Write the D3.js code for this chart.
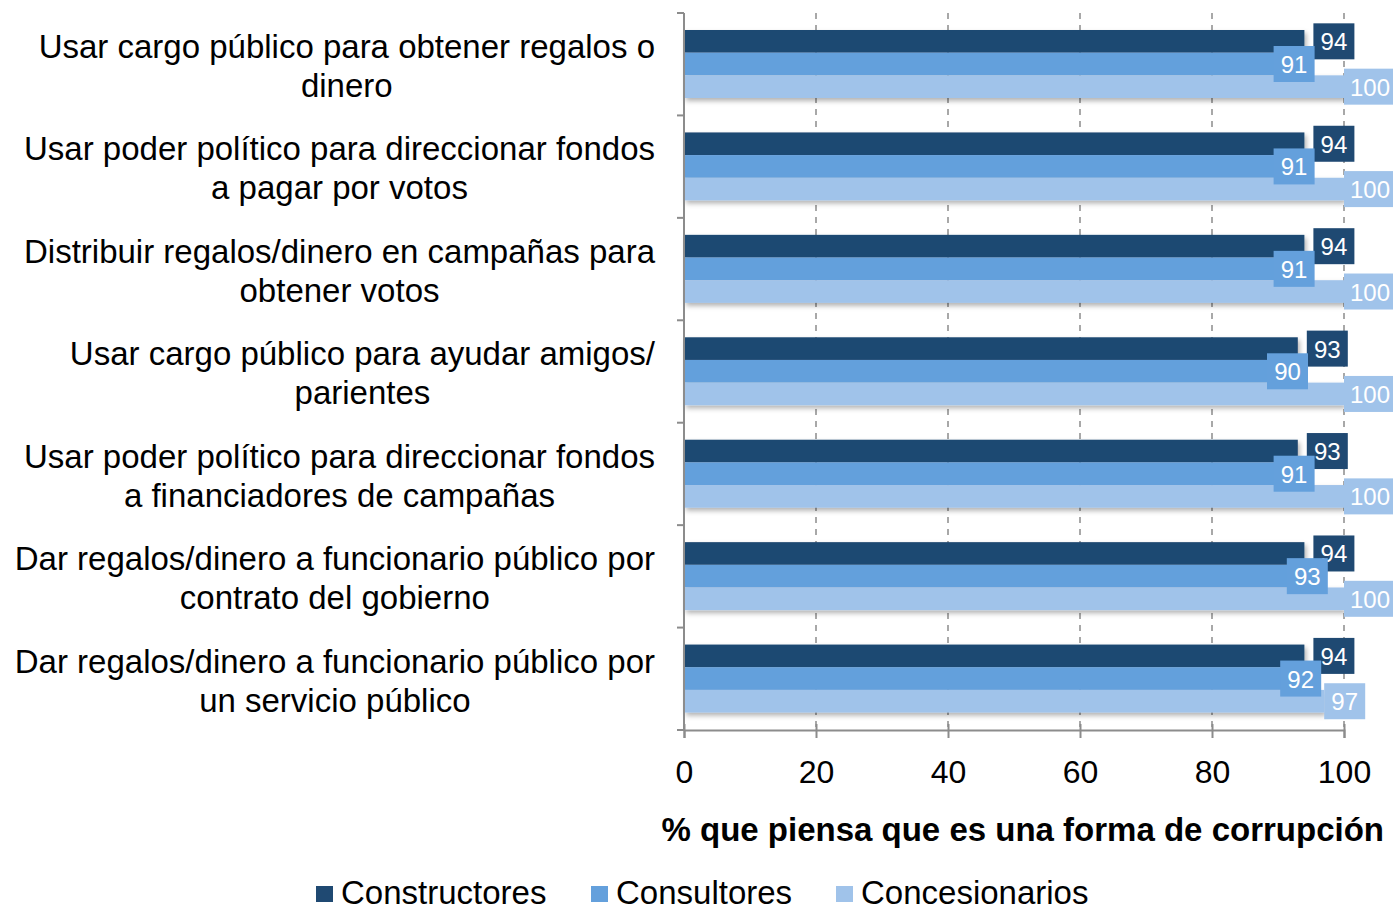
<!DOCTYPE html>
<html lang="en">
<head>
<meta charset="UTF-8">
<title>Corrupción</title>
<style>
  html, body { margin: 0; padding: 0; background: #fff; }
  svg { display: block; font-family: 'Liberation Sans', Arial, sans-serif; }
</style>
</head>
<body>
<div id="vis"></div>
<script src="https://d3js.org/d3.v7.min.js"></script>
<script>
// categories, top to bottom (each split in two lines as in the original)
var categories = [
  ["Usar cargo público para obtener regalos o", "dinero"],
  ["Usar poder político para direccionar fondos", "a pagar por votos"],
  ["Distribuir regalos/dinero en campañas para", "obtener votos"],
  ["Usar cargo público para ayudar amigos/", "parientes"],
  ["Usar poder político para direccionar fondos", "a financiadores de campañas"],
  ["Dar regalos/dinero a funcionario público por", "contrato del gobierno"],
  ["Dar regalos/dinero a funcionario público por", "un servicio público"]
];
var seriesNames = ["Constructores", "Consultores", "Concesionarios"];
var constructores = [94, 94, 94, 93, 93, 94, 94];
var consultores = [91, 91, 91, 90, 91, 93, 92];
var concesionarios = [100, 100, 100, 100, 100, 100, 97];
var xTicks = [0, 20, 40, 60, 80, 100];
var colors = ["#1f4972", "#64a0dc", "#a0c3ea"];

var series = [constructores, consultores, concesionarios];
// label box offsets from bar end, per series
var labelOffset = [9, -11, 0];

var W = 1393, H = 911;
var svg = d3.select("#vis").append("svg").attr("width", W).attr("height", H);

var defs = svg.append("defs");
var f = defs.append("filter").attr("id", "shadow")
  .attr("x", "-5%").attr("y", "-20%").attr("width", "110%").attr("height", "160%");
f.append("feDropShadow").attr("dx", 2).attr("dy", 3).attr("stdDeviation", 2.5)
  .attr("flood-color", "#000").attr("flood-opacity", 0.3);

var plotL = 684, plotR = 1344, plotT = 13, plotB = 730;

var x = d3.scaleLinear().domain([0, 100]).range([plotL, plotR]);
var y = d3.scaleBand().domain(d3.range(categories.length)).range([plotT, plotB]);
var inner = d3.scaleBand().domain(d3.range(3)).range([17, 85]);

// gridlines
svg.append("g").selectAll("line").data(xTicks.slice(1)).join("line")
  .attr("x1", d => x(d)).attr("x2", d => x(d))
  .attr("y1", plotT).attr("y2", plotB)
  .attr("stroke", "#8c8c8c").attr("stroke-width", 1.5)
  .attr("stroke-dasharray", "6,6");

// bars
var groups = svg.append("g").selectAll("g.cat").data(categories).join("g")
  .attr("class", "cat")
  .attr("transform", (d, i) => "translate(0," + y(i) + ")")
  .attr("filter", "url(#shadow)");

series.forEach(function(vals, s) {
  groups.append("rect")
    .attr("x", plotL)
    .attr("y", inner(s))
    .attr("width", (d, i) => x(vals[i]) - plotL)
    .attr("height", inner.bandwidth())
    .attr("fill", colors[s]);
});

// value labels
var labG = svg.append("g");
series.forEach(function(vals, s) {
  vals.forEach(function(v, i) {
    var txt = String(v);
    var bw = txt.length > 2 ? 52 : 41;
    var bx = x(v) + labelOffset[s];
    var cy = y(i) + inner(s) + inner.bandwidth() / 2;
    labG.append("rect")
      .attr("x", bx).attr("y", cy - 18)
      .attr("width", bw).attr("height", 36)
      .attr("fill", colors[s]);
    labG.append("text")
      .attr("x", bx + bw / 2).attr("y", cy + 9)
      .attr("text-anchor", "middle")
      .attr("fill", "#fff").attr("font-size", 24)
      .text(txt);
  });
});

// y axis line and ticks
var axG = svg.append("g").attr("stroke", "#8c8c8c").attr("stroke-width", 2);
axG.append("line").attr("x1", plotL).attr("x2", plotL).attr("y1", plotT).attr("y2", plotB);
axG.selectAll("line.yt").data(d3.range(categories.length + 1)).join("line")
  .attr("class", "yt")
  .attr("x1", plotL - 7).attr("x2", plotL)
  .attr("y1", d => d < categories.length ? y(d) : plotB)
  .attr("y2", d => d < categories.length ? y(d) : plotB);

// x axis
var xAxis = svg.append("g")
  .attr("transform", "translate(0," + plotB + ")")
  .call(d3.axisBottom(x).tickValues(xTicks).tickSize(8).tickPadding(22));
xAxis.select(".domain").attr("stroke", "#8c8c8c").attr("stroke-width", 2);
xAxis.selectAll(".tick line").attr("stroke", "#8c8c8c").attr("stroke-width", 2).attr("y1", -6);
xAxis.selectAll(".tick text").attr("font-size", 32).attr("fill", "#000")
  .attr("font-family", "'Liberation Sans', Arial, sans-serif");

svg.append("text")
  .attr("x", 1384).attr("y", 841)
  .attr("text-anchor", "end")
  .attr("font-size", 33).attr("font-weight", "bold")
  .text("% que piensa que es una forma de corrupción");

// category labels: centered block, right edge at 655
var catG = svg.append("g");
categories.forEach(function(lines, i) {
  var t = catG.append("text").attr("font-size", 33).attr("fill", "#000");
  var spans = lines.map(function(l, k) {
    return t.append("tspan").attr("y", y(i) + 45 + k * 39).text(l);
  });
  var maxW = d3.max(spans, s => s.node().getComputedTextLength());
  var cx = 655 - maxW / 2;
  spans.forEach(s => s.attr("x", cx).attr("text-anchor", "middle"));
});

// legend
var legX = [316, 591, 836];
var leg = svg.append("g");
seriesNames.forEach(function(n, s) {
  leg.append("rect").attr("x", legX[s]).attr("y", 886).attr("width", 17).attr("height", 16)
    .attr("fill", colors[s]);
  leg.append("text").attr("x", legX[s] + 25).attr("y", 904)
    .attr("font-size", 33).attr("fill", "#000").text(n);
});
</script>
</body>
</html>
